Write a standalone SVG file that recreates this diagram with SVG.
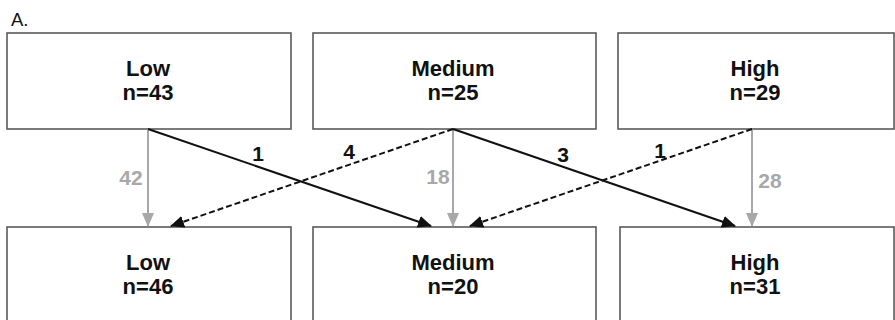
<svg xmlns="http://www.w3.org/2000/svg" width="895" height="320" viewBox="0 0 895 320">
  <style>
    .box { fill: #ffffff; stroke: #5a5a5a; stroke-width: 1.6; }
    .lbl { font-family: "Liberation Sans", Arial, sans-serif; font-weight: bold; font-size: 22px; fill: #111111; text-anchor: middle; }
    .num { font-family: "Liberation Sans", Arial, sans-serif; font-weight: bold; font-size: 21px; text-anchor: middle; }
    .blk { fill: #111111; }
    .gry { fill: #a8a8a8; }
    .stay { stroke: #a8a8a8; stroke-width: 2; fill: none; }
    .up { stroke: #111111; stroke-width: 2; fill: none; }
    .down { stroke: #111111; stroke-width: 2; fill: none; stroke-dasharray: 6 3; }
  </style>
  <defs>
    <marker id="headBlack" markerWidth="14" markerHeight="12" refX="13" refY="6" orient="auto" markerUnits="userSpaceOnUse">
      <path d="M0,0 L14,6 L0,12 Z" fill="#111111"/>
    </marker>
    <marker id="headGray" markerWidth="14" markerHeight="12" refX="13" refY="6" orient="auto" markerUnits="userSpaceOnUse">
      <path d="M0,0 L14,6 L0,12 Z" fill="#a8a8a8"/>
    </marker>
  </defs>

  <text x="11" y="26" font-family="'Liberation Sans', Arial, sans-serif" font-size="18.5" fill="#111111">A.</text>

  <!-- baseline groups -->
  <g id="top-low">
    <rect class="box" x="7" y="33" width="284" height="96"/>
    <text class="lbl" x="148" y="76">Low</text>
    <text class="lbl" x="148" y="100">n=43</text>
  </g>
  <g id="top-medium">
    <rect class="box" x="313" y="33" width="283" height="96"/>
    <text class="lbl" x="453" y="76">Medium</text>
    <text class="lbl" x="453" y="100">n=25</text>
  </g>
  <g id="top-high">
    <rect class="box" x="618" y="33" width="276" height="96"/>
    <text class="lbl" x="755" y="76">High</text>
    <text class="lbl" x="755" y="100">n=29</text>
  </g>

  <!-- follow-up groups -->
  <g id="bottom-low">
    <rect class="box" x="7" y="227" width="284" height="110"/>
    <text class="lbl" x="148" y="270">Low</text>
    <text class="lbl" x="148" y="294">n=46</text>
  </g>
  <g id="bottom-medium">
    <rect class="box" x="313" y="227" width="283" height="110"/>
    <text class="lbl" x="453" y="270">Medium</text>
    <text class="lbl" x="453" y="294">n=20</text>
  </g>
  <g id="bottom-high">
    <rect class="box" x="620" y="227" width="274" height="110"/>
    <text class="lbl" x="755" y="270">High</text>
    <text class="lbl" x="755" y="294">n=31</text>
  </g>

  <!-- transitions -->
  <g id="connectors">
    <line class="stay" x1="148" y1="129" x2="148" y2="226" marker-end="url(#headGray)"/>
    <line class="stay" x1="453" y1="129" x2="453" y2="226" marker-end="url(#headGray)"/>
    <line class="stay" x1="752" y1="129" x2="752" y2="226" marker-end="url(#headGray)"/>

    <line class="up" x1="148" y1="129" x2="431" y2="226" marker-end="url(#headBlack)"/>
    <line class="up" x1="453" y1="129" x2="735" y2="226" marker-end="url(#headBlack)"/>

    <line class="down" x1="453" y1="129" x2="171" y2="226" marker-end="url(#headBlack)"/>
    <line class="down" x1="752" y1="129" x2="470" y2="226" marker-end="url(#headBlack)"/>

    <text class="num gry" x="131" y="185">42</text>
    <text class="num blk" x="258" y="161">1</text>
    <text class="num blk" x="349" y="159">4</text>
    <text class="num gry" x="438" y="184">18</text>
    <text class="num blk" x="563" y="162">3</text>
    <text class="num blk" x="660" y="158">1</text>
    <text class="num gry" x="770" y="188">28</text>
  </g>
</svg>
